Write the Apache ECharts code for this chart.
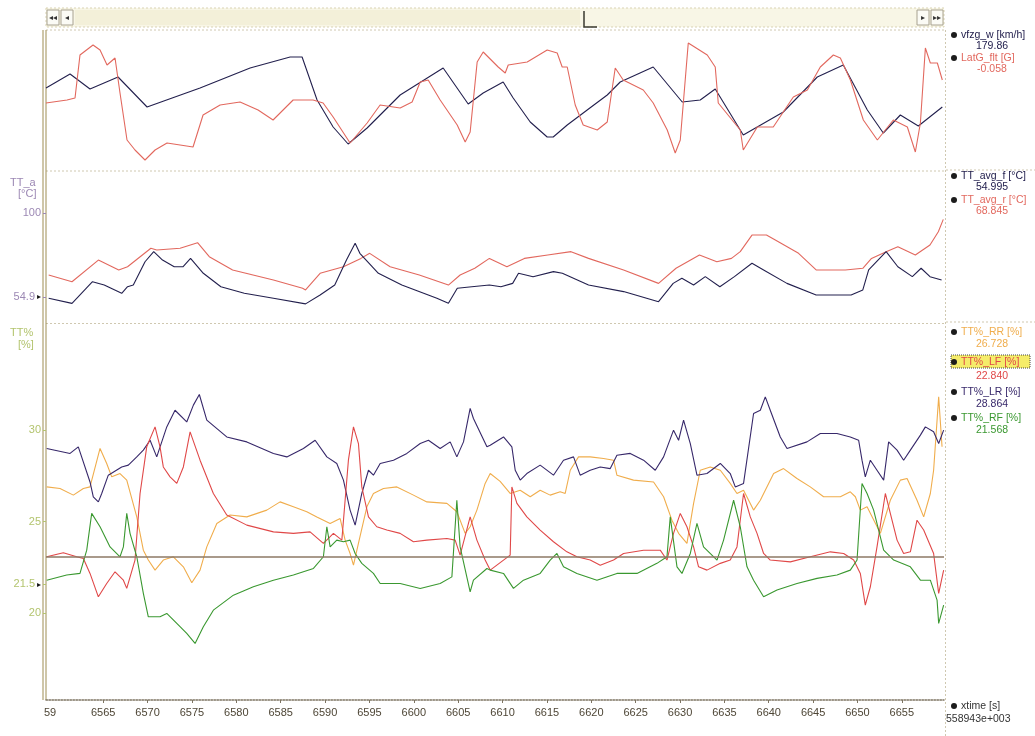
<!DOCTYPE html>
<html><head><meta charset="utf-8">
<script src="https://cdn.jsdelivr.net/npm/echarts@6/dist/echarts.min.js"></script>
<style>html,body{margin:0;padding:0;background:#fdfdfa;}#c{width:1035px;height:736px;}</style>
</head><body><div id="c"></div>
<script>
// ---------- axis ranges / ticks ----------
const X_MIN = 6558.55, X_MAX = 6659.75;
const xTickLabels = [6559,6565,6570,6575,6580,6585,6590,6595,6600,6605,6610,6615,6620,6625,6630,6635,6640,6645,6650,6655];
const tempTicks = [100, 54.995];
const pctTicks = [20, 21.568, 25, 30];
const REF_LEVEL = 23.1;

// ---------- top panel ----------
const vfzgT = [6558.55,6561.26,6563.51,6566.67,6569.94,6575.91,6581.55,6586.06,6587.41,6589.1,6590.91,6592.6,6594.74,6598.46,6603.31,6606.13,6607.82,6610.07,6611.2,6613.12,6615.03,6615.71,6617.29,6619.54,6621.8,6623.26,6626.98,6630.25,6632.28,6633.97,6637.13,6641.64,6645.47,6648.4,6651.11,6652.91,6654.83,6656.86,6659.56];
const vfzgV = [204,232,202,226,166,204,244,266,266,180,126,92,124,190,244,172,194,216,184,136,106,106,130,160,190,216,246,176,180,202,110,156,226,250,160,114,150,128,166];

const latT = [6558.55,6560.92,6561.82,6562.38,6563.85,6564.64,6565.43,6566.33,6566.89,6567.68,6568.58,6569.71,6570.84,6572.19,6573.66,6575.12,6576.25,6578.17,6580.42,6582.45,6584.14,6586.4,6588.65,6589.78,6590.91,6592.82,6594.74,6596.2,6598.46,6599.81,6600.72,6601.62,6602.97,6604.89,6605.79,6606.35,6607.14,6607.82,6609.51,6610.3,6610.64,6612.78,6615.03,6616.16,6616.72,6617.29,6618.19,6619.09,6620.67,6621.8,6622.7,6623.6,6625.86,6626.98,6628.56,6629.46,6630.03,6630.93,6633.07,6633.97,6634.31,6636.79,6637.13,6638.71,6640.51,6642.77,6644.35,6645.81,6647.28,6648.07,6649.2,6650.66,6652.24,6654.04,6655.62,6656.52,6657.09,6657.65,6658.21,6659.0,6659.56];
const latV = [-0.15,0,0.1,2.25,2.75,2.5,1.75,2.1,0.35,-2.0,-2.5,-3.0,-2.5,-2.15,-2.25,-2.35,-0.75,-0.25,-0.1,-0.5,-1.0,0,0,-0.15,-0.85,-2.15,-1.15,-0.25,-0.4,-0.1,0.9,1.0,0,-1.25,-2.1,-1.6,1.9,2.4,1.65,1.35,1.75,1.9,2.5,2.35,1.65,1.65,-0.25,-1.25,-1.5,-1.1,1.6,1.0,0.5,-0.15,-1.5,-2.65,-2.0,2.85,2.25,1.65,-0.15,-1.5,-2.5,-1.35,-1.35,0.15,0.5,1.65,2.25,2.1,1.0,-1.0,-2.0,-1.0,-1.35,-2.6,-1.15,2.6,1.85,1.85,1.0];

// ---------- middle panel ----------
const ttfT = [6558.85,6561.48,6563.79,6565.11,6567.08,6567.74,6568.39,6569.71,6570.69,6571.68,6573.0,6573.98,6574.84,6576.28,6578.26,6580.9,6584.18,6587.8,6589.44,6591.09,6592.41,6593.39,6593.92,6596.01,6598.65,6602.6,6603.9,6604.9,6606.53,6608.52,6609.82,6611.14,6611.8,6613.44,6615.74,6616.74,6619.69,6623.64,6627.58,6629.23,6630.21,6631.53,6632.85,6634.49,6636.13,6638.11,6639.42,6642.05,6645.34,6649.28,6650.6,6651.26,6653.23,6654.55,6656.18,6657.17,6658.17,6659.48];
const ttfV = [54.3,51.6,63.2,61.4,57.0,60.5,61.4,73.9,79.3,74.8,71.2,71.2,75.7,67.7,60.5,57.0,54.3,51.3,56.1,61.4,74.8,83.8,78.4,67.7,61.4,54.3,51.6,59.7,60.5,61.4,60.5,62.3,67.7,65.9,68.6,67.7,61.4,57.9,52.5,62.3,65.0,61.4,65.9,60.5,65.9,73.1,69.5,62.3,56.1,56.1,58.8,69.5,79.3,71.2,65.9,70.4,65.9,64.1];

const ttrT = [6558.85,6561.48,6564.45,6566.75,6567.74,6570.37,6571.03,6573.66,6575.63,6576.95,6579.58,6584.18,6587.47,6587.8,6589.44,6592.07,6594.04,6595.03,6597.33,6600.62,6603.9,6605.22,6606.87,6608.52,6610.49,6612.46,6615.09,6617.72,6619.69,6623.64,6627.58,6629.55,6632.19,6634.15,6635.8,6636.79,6638.11,6639.74,6640.74,6643.36,6645.34,6648.63,6650.6,6651.58,6653.23,6654.55,6656.52,6658.17,6659.11,6659.67];
const ttrV = [66.8,63.2,74.8,69.5,71.2,81.1,80.2,81.1,84.1,76.6,69.5,64.1,59.7,58.8,67.7,71.2,75.7,78.4,71.2,66.8,61.4,66.8,70.4,75.7,71.2,75.7,77.5,79.3,75.7,69.5,62.3,70.4,77.5,73.9,75.7,79.3,88.2,88.2,85.5,78.4,69.5,69.5,70.4,75.7,79.3,81.9,77.5,82.9,90.0,96.6];

// ---------- bottom panel ----------
const lrT = [6558.63,6561.26,6562.19,6563.51,6563.88,6564.45,6564.83,6565.57,6567.08,6567.83,6568.78,6569.52,6570.28,6571.03,6572.16,6573.09,6574.41,6575.16,6575.83,6576.67,6578.92,6581.18,6584.18,6585.69,6587.56,6588.88,6590.2,6591.32,6592.07,6592.82,6593.39,6594.14,6594.89,6595.45,6596.21,6597.71,6599.22,6600.72,6601.65,6602.97,6604.1,6604.85,6605.6,6606.35,6606.72,6608.24,6608.61,6610.11,6611.05,6611.43,6611.99,6612.74,6614.24,6615.74,6616.87,6618.0,6618.75,6619.88,6621.01,6622.14,6622.89,6624.39,6625.89,6627.21,6628.15,6629.27,6629.84,6630.4,6631.16,6631.91,6633.04,6634.54,6635.66,6636.23,6637.16,6638.29,6639.05,6639.61,6640.17,6641.3,6642.06,6644.31,6645.81,6647.69,6649.19,6650.13,6650.51,6650.88,6651.45,6652.2,6652.95,6653.51,6654.46,6655.2,6655.96,6657.09,6657.65,6658.58,6659.15,6659.71];
const lrV = [29.0,28.73,29.09,27.17,26.36,26.08,26.54,27.54,27.99,28.09,28.54,28.91,29.45,28.54,30.18,31.09,30.45,31.37,31.95,30.55,29.63,29.36,28.73,28.54,29.0,29.45,28.54,28.18,27.27,25.63,24.81,26.54,27.81,27.54,28.18,28.36,28.73,29.27,29.45,29.0,29.36,28.54,29.36,31.19,30.64,29.09,29.18,29.63,29.09,27.81,27.27,27.63,28.09,27.54,28.36,28.54,27.54,27.81,27.99,27.9,28.63,28.73,28.36,27.81,28.54,30.0,29.45,30.55,29.27,27.54,27.63,28.18,27.63,26.9,27.09,30.91,31.09,31.82,31.09,29.63,29.0,29.36,29.82,29.82,29.63,29.45,28.36,27.45,28.36,27.81,27.27,29.36,28.91,28.36,28.91,29.73,30.18,29.91,29.27,30.0];

const rrT = [6558.63,6560.13,6561.63,6562.76,6563.51,6564.64,6565.39,6565.96,6566.89,6567.65,6568.78,6569.52,6570.08,6570.84,6571.77,6572.9,6574.03,6574.98,6575.91,6576.67,6577.8,6579.29,6581.18,6583.43,6584.93,6586.43,6587.94,6589.07,6590.57,6591.7,6592.26,6592.82,6593.2,6593.76,6594.71,6595.45,6596.58,6598.09,6599.96,6601.47,6603.73,6604.85,6605.79,6606.35,6607.11,6608.04,6608.61,6609.73,6610.86,6611.99,6613.12,6614.24,6615.37,6616.5,6617.06,6617.63,6618.56,6619.88,6621.38,6622.51,6622.89,6624.76,6627.02,6628.15,6629.09,6629.84,6630.78,6631.53,6632.28,6633.41,6634.54,6635.66,6636.42,6637.16,6638.29,6639.05,6640.55,6641.67,6643.18,6644.68,6646.18,6648.07,6649.19,6649.76,6650.32,6651.08,6652.58,6653.7,6654.83,6655.59,6656.71,6657.46,6658.21,6658.58,6659.15,6659.53];
const rrV = [26.9,26.81,26.45,26.81,26.9,29.0,28.18,27.45,27.63,27.27,25.26,23.44,22.9,22.35,22.9,23.08,22.53,21.66,22.35,23.62,24.9,25.36,25.26,25.63,26.08,25.81,25.54,25.26,24.9,25.17,23.99,23.26,22.62,23.81,25.81,26.54,26.81,26.9,26.45,26.08,26.0,25.54,24.36,24.72,25.63,27.09,27.63,27.2,26.54,26.72,26.36,26.72,26.45,26.63,26.54,27.81,28.54,28.54,28.45,28.36,27.54,27.27,27.17,26.36,25.08,24.36,23.81,26.0,27.81,27.99,27.81,27.09,26.54,26.72,25.63,26.17,27.63,27.9,27.36,26.9,26.36,26.36,26.63,26.36,25.63,25.81,24.36,26.17,27.27,27.36,26.17,25.26,26.54,27.81,31.82,29.09];

const lfT = [6558.63,6560.5,6562.01,6562.76,6563.51,6564.45,6565.39,6566.33,6567.27,6567.65,6568.58,6569.15,6569.9,6570.84,6571.4,6571.77,6572.53,6573.29,6574.03,6574.79,6575.91,6577.41,6578.92,6581.18,6584.18,6586.43,6588.31,6589.81,6590.94,6591.89,6592.63,6593.2,6593.76,6594.14,6594.89,6595.83,6596.96,6598.46,6599.96,6601.47,6603.73,6604.66,6605.22,6606.35,6607.11,6608.04,6608.61,6610.86,6611.05,6611.62,6612.74,6614.24,6615.74,6617.25,6618.38,6619.88,6621.01,6622.51,6623.64,6625.89,6627.77,6628.53,6629.27,6630.03,6630.78,6631.53,6632.09,6633.04,6634.54,6635.66,6636.42,6637.16,6637.92,6638.68,6639.42,6640.17,6642.43,6644.68,6646.94,6648.44,6649.57,6650.32,6650.88,6651.45,6652.2,6653.14,6653.7,6654.46,6655.2,6655.96,6656.71,6657.46,6658.58,6659.15,6659.71];
const lfV = [23.08,23.3,23.08,22.99,22.17,20.89,21.62,22.26,21.8,21.35,22.9,26.54,29.09,30.18,29.09,27.99,27.45,27.09,27.99,29.91,28.36,26.54,25.36,24.81,24.44,24.36,24.44,23.81,24.36,23.99,28.36,30.18,29.27,26.9,25.26,24.72,24.54,24.36,23.9,23.99,24.08,23.99,23.17,25.26,23.99,22.9,22.35,23.17,26.9,26.0,25.26,24.54,23.9,23.35,23.08,22.9,22.62,22.9,23.26,23.44,23.44,22.9,24.36,25.45,24.72,23.62,22.53,22.35,22.72,22.9,23.62,26.54,25.26,24.36,23.26,22.9,22.8,23.08,23.35,23.26,22.9,22.17,20.44,21.44,23.62,26.54,25.45,23.99,23.26,23.35,25.08,24.54,23.26,21.08,22.35];

const rfT = [6558.63,6560.88,6562.38,6563.14,6563.7,6564.64,6565.77,6566.89,6567.27,6567.65,6568.02,6568.78,6569.52,6570.08,6571.4,6572.16,6573.29,6574.41,6575.35,6576.28,6577.41,6579.67,6581.92,6584.18,6586.43,6588.69,6589.81,6590.2,6590.57,6591.32,6592.07,6592.82,6593.39,6594.14,6595.45,6596.21,6598.46,6600.72,6602.97,6604.29,6604.85,6605.22,6606.35,6606.72,6608.24,6608.61,6610.11,6611.23,6612.36,6614.24,6615.37,6616.13,6616.87,6618.38,6620.64,6622.89,6625.15,6627.4,6628.53,6628.9,6629.66,6630.22,6631.16,6631.91,6632.65,6634.17,6634.91,6636.04,6636.79,6637.55,6638.29,6639.42,6640.93,6643.18,6645.44,6647.69,6649.19,6649.95,6650.51,6651.08,6651.82,6652.95,6654.08,6655.96,6657.09,6658.21,6658.97,6659.15,6659.71];
const rfV = [21.8,22.08,22.17,23.44,25.45,24.72,23.62,23.08,23.62,25.45,24.36,23.08,21.08,19.8,19.8,19.98,19.44,18.89,18.34,19.25,20.16,20.98,21.44,21.8,22.08,22.44,23.08,24.72,23.62,23.99,23.9,23.99,23.26,22.72,22.17,21.62,21.62,21.35,21.62,21.98,26.17,23.62,21.16,21.8,22.44,22.35,22.17,21.35,21.8,22.17,22.9,23.26,22.53,22.17,21.8,22.17,22.17,22.72,23.08,25.26,22.53,22.17,23.26,24.9,23.62,22.9,23.99,26.17,24.72,22.53,21.8,20.89,21.26,21.62,21.9,22.08,22.35,22.9,27.09,26.54,25.63,23.44,22.9,22.53,21.8,21.8,20.71,19.44,20.44];

// ---------- legend texts ----------
const legendNames  = ['vfzg_w [km/h]','LatG_flt [G]','TT_avg_f [°C]','TT_avg_r [°C]','TT%_RR [%]','TT%_LF [%]','TT%_LR [%]','TT%_RF [%]'];
const legendValues = ['179.86','-0.058','54.995','68.845','26.728','22.840','28.864','21.568'];
const xName = 'xtime [s]', xValue = '558943e+003';

// ---------- rendering ----------
const zip = (t, v) => t.map((x, i) => [x, v[i]]);
const FONT = '"Liberation Sans",Arial,sans-serif';
const C = {navy:'#23204e', salmon:'#e2685e', rr:'#f0ad4c', lf:'#e04848', lr:'#37286a', rf:'#3a9830',
           tempLbl:'#9c88b4', pctLbl:'#b3c46e', frame:'#cfc8b0', axisOl:'#9e8d52'};
const colors = [C.navy, C.salmon, C.navy, C.salmon, C.rr, C.lf, C.lr, C.rf];

const chart = echarts.init(document.getElementById('c'), null, {renderer:'canvas'});

const PL = 46, PR = 944, PW = PR - PL;
const grids = [{left:PL, top:30, width:PW, height:140},{left:PL, top:172, width:PW, height:150},{left:PL, top:325, width:PW, height:375}];

function xAx(i){
  const shown = i === 2;
  return {type:'value', gridIndex:i, min:X_MIN, max:X_MAX,
    axisLine:{show:shown, onZero:false, lineStyle:{color:'#7d7462', type:'dotted', width:1.5}},
    axisTick:{show:shown, customValues:xTickLabels.slice(1), length:3, lineStyle:{color:'#7d7462'}},
    axisLabel:{show:shown, customValues:xTickLabels, color:'#4e4636', fontFamily:FONT, fontSize:11, margin:7,
      formatter:v => v === 6559 ? '59' : String(v)},
    splitLine:{show:false}};
}

const line = (name, data, xi, yi, color, extra) => Object.assign({
  name, type:'line', data, xAxisIndex:xi, yAxisIndex:yi, showSymbol:false, symbol:'none',
  lineStyle:{color, width:1.1}, itemStyle:{color}, animation:false, silent:true}, extra||{});

const graphic = [];
// scrollbar
graphic.push({type:'rect', shape:{x:PL, y:8, width:PW, height:19}, style:{fill:'#f8f6e6', stroke:'#d9d3b4', lineWidth:1, lineDash:[2,2]}});
graphic.push({type:'rect', shape:{x:75, y:10, width:505, height:15}, style:{fill:'#f3f0d9'}});
[[PL,'◂◂'],[PL+14,'◂'],[PR-28,'▸'],[PR-14,'▸▸']].forEach(([x,t]) => {
  graphic.push({type:'rect', shape:{x:x+1, y:10, width:12, height:15}, style:{fill:'#fbfbf5', stroke:'#a8a290', lineWidth:1}});
  graphic.push({type:'text', style:{text:t, x:x+7, y:17.5, fill:'#333', font:'8px DejaVu Sans', align:'center', verticalAlign:'middle'}});
});
graphic.push({type:'polyline', shape:{points:[[584,11],[584,27],[597,27]]}, style:{stroke:'#3a3a30', lineWidth:1.5, fill:null}});
// panel frames
[30,171,323.5].forEach(y => graphic.push({type:'line', shape:{x1:PL, y1:y, x2:PR+1, y2:y}, style:{stroke:C.frame, lineDash:[2,2], lineWidth:1}}));
graphic.push({type:'line', shape:{x1:PR+1.5, y1:30, x2:PR+1.5, y2:736}, style:{stroke:C.frame, lineDash:[2,2], lineWidth:1}});
[170,322].forEach(y => graphic.push({type:'line', shape:{x1:PR+2, y1:y, x2:1035, y2:y}, style:{stroke:C.frame, lineDash:[2,2], lineWidth:1}}));
// left double axis line
[43, 46].forEach(x => graphic.push({type:'line', shape:{x1:x, y1:30, x2:x, y2:700}, style:{stroke:C.axisOl, lineWidth:1}}));
// axis titles
graphic.push({type:'text', style:{text:'TT_a', x:10, y:183, fill:C.tempLbl, font:'11px '+FONT, verticalAlign:'middle'}});
graphic.push({type:'text', style:{text:'[°C]', x:18, y:194, fill:C.tempLbl, font:'11px '+FONT, verticalAlign:'middle'}});
graphic.push({type:'text', style:{text:'TT%', x:10, y:333, fill:C.pctLbl, font:'11px '+FONT, verticalAlign:'middle'}});
graphic.push({type:'text', style:{text:'[%]', x:18, y:345, fill:C.pctLbl, font:'11px '+FONT, verticalAlign:'middle'}});
// legend
const nameY = [35,58,176,200,332,362,392,418];
const valY  = [46,69,187,211,344,376,404,430];
legendNames.forEach((n,i) => {
  if (i === 5) graphic.push({type:'rect', shape:{x:951, y:nameY[i]-7, width:79, height:13}, style:{fill:'#f5ec6a', stroke:'#444', lineDash:[1,1], lineWidth:1}});
  graphic.push({type:'circle', shape:{cx:954, cy:nameY[i], r:3}, style:{fill:'#1c1c1c'}});
  graphic.push({type:'text', style:{text:n, x:961, y:nameY[i], fill:colors[i], font:'10.5px '+FONT, verticalAlign:'middle'}});
  graphic.push({type:'text', style:{text:legendValues[i], x:992, y:valY[i], fill:colors[i], font:'10.5px '+FONT, align:'center', verticalAlign:'middle'}});
});
graphic.push({type:'circle', shape:{cx:954, cy:706, r:3}, style:{fill:'#1c1c1c'}});
graphic.push({type:'text', style:{text:xName, x:961, y:706, fill:'#333', font:'10.5px '+FONT, verticalAlign:'middle'}});
graphic.push({type:'text', style:{text:xValue, x:946, y:719, fill:'#333', font:'10.5px '+FONT, verticalAlign:'middle'}});

chart.setOption({
  backgroundColor:'#ffffff',
  animation:false,
  grid:grids,
  xAxis:[xAx(0), xAx(1), xAx(2)],
  yAxis:[
    {type:'value', gridIndex:0, min:40, max:320, show:false},
    {type:'value', gridIndex:0, min:-3.5, max:3.5, show:false},
    {type:'value', gridIndex:1, min:41.6, max:122, axisLine:{show:false},
      axisTick:{show:true, customValues:tempTicks, length:3, lineStyle:{color:C.tempLbl}},
      axisLabel:{customValues:tempTicks, fontFamily:FONT, fontSize:11, color:C.tempLbl, margin:5,
        formatter:v => v === 100 ? '100' : '{a|54.9}{m|▸}',
        rich:{a:{color:C.tempLbl, fontFamily:FONT, fontSize:11}, m:{color:'#111', fontSize:8, padding:[0,0,0,2]}}},
      splitLine:{show:false}},
    {type:'value', gridIndex:2, min:15.25, max:35.75, axisLine:{show:false},
      axisTick:{show:true, customValues:pctTicks, length:3, lineStyle:{color:C.pctLbl}},
      axisLabel:{customValues:pctTicks, fontFamily:FONT, fontSize:11, color:C.pctLbl, margin:5,
        formatter:v => v === 21.568 ? '{a|21.5}{m|▸}' : String(v),
        rich:{a:{color:C.pctLbl, fontFamily:FONT, fontSize:11}, m:{color:'#111', fontSize:8, padding:[0,0,0,2]}}},
      splitLine:{show:false}}
  ],
  series:[
    line('vfzg_w', zip(vfzgT, vfzgV), 0, 0, C.navy),
    line('LatG', zip(latT, latV), 0, 1, C.salmon),
    line('TT_avg_r', zip(ttrT, ttrV), 1, 2, C.salmon),
    line('TT_avg_f', zip(ttfT, ttfV), 1, 2, C.navy),
    line('TT%_RR', zip(rrT, rrV), 2, 3, C.rr),
    line('TT%_LR', zip(lrT, lrV), 2, 3, C.lr),
    line('TT%_LF', zip(lfT, lfV), 2, 3, C.lf),
    line('TT%_RF', zip(rfT, rfV), 2, 3, C.rf, {markLine:{silent:true, symbol:'none', label:{show:false},
      lineStyle:{color:'#8c7864', width:1.5, type:'solid'}, data:[{yAxis:REF_LEVEL}]}})
  ],
  graphic:{elements:graphic}
});
</script></body></html>
